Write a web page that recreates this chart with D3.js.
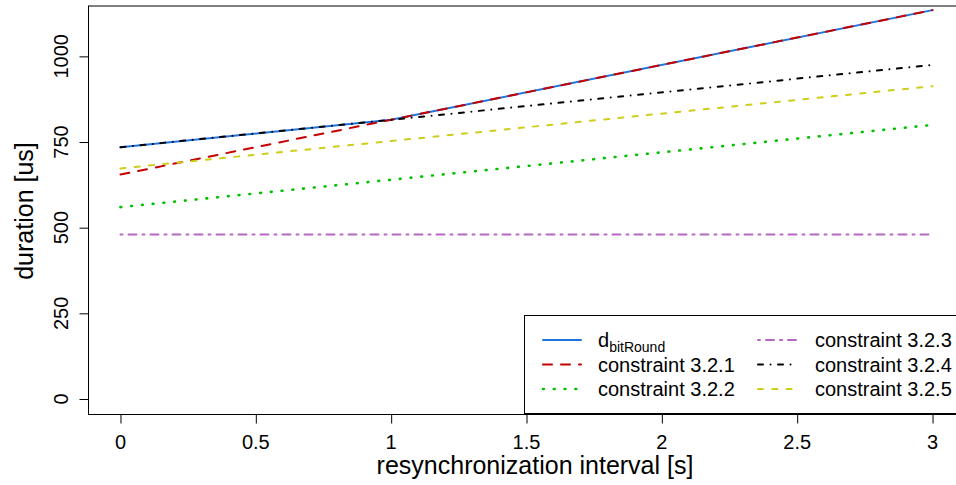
<!DOCTYPE html>
<html>
<head>
<meta charset="utf-8">
<script src="https://cdn.jsdelivr.net/npm/d3@7"></script>
<style>
  body { margin: 0; background: #fff; }
  text { font-family: "Liberation Sans", Arial, sans-serif; fill: #000; }
</style>
</head>
<body>
<svg id="chart" width="956" height="485"></svg>
<script>
// data (x = resynchronization interval in s, y = duration in us)
var intervals = [0, 1, 3];
var dBitRound = [735, 815, 1135];
var c321 = [655, 815, 1135];
var c322 = [560, 640, 800];
var c323 = [480, 480, 480];
var c324 = [735, 815, 975];
var c325 = [673, 753, 913];

var xTicks = [0, 0.5, 1, 1.5, 2, 2.5, 3];
var yTicks = [0, 250, 500, 750, 1000];

var seriesNames = ["d", "constraint 3.2.1", "constraint 3.2.2", "constraint 3.2.3", "constraint 3.2.4", "constraint 3.2.5"];
var seriesValues = [dBitRound, c321, c322, c323, c324, c325];
var seriesColors = ["#1f74e0", "#c40000", "#00c000", "#b866c4", "#000000", "#cdcd1a"];
var seriesDash = [null, "9,9", "0.8,10", "2,6,8,6", "5,7.5,0.01,7.5", "5,9.3"];

var fs = 20;      // tick labels and legend
var fsTitle = 25; // axis titles

var svg = d3.select("#chart");

var xScale = d3.scaleLinear().domain([-0.12, 3.12]).range([88, 965]);
var yScale = d3.scaleLinear().domain([-43.8, 1147]).range([414, 6]);

var line = d3.line()
    .x(function (d) { return xScale(d.x); })
    .y(function (d) { return yScale(d.y); });

// lines
seriesValues.forEach(function (vals, i) {
    var pts = intervals.map(function (x, j) { return { x: x, y: vals[j] }; });
    var p = svg.append("path")
        .datum(pts)
        .attr("fill", "none")
        .attr("stroke", seriesColors[i])
        .attr("stroke-width", i == 2 ? 2.6 : 2)
        .attr("stroke-linecap", "round")
        .attr("d", line);
    if (seriesDash[i]) p.attr("stroke-dasharray", seriesDash[i]);
});

// box
svg.append("rect")
    .attr("x", 88.5).attr("y", 6)
    .attr("width", 900).attr("height", 408.5)
    .attr("fill", "none").attr("stroke", "#000");

// x axis
var xAxis = svg.append("g")
    .attr("transform", "translate(0,414.5)")
    .call(d3.axisBottom(xScale).tickValues(xTicks).tickSize(9).tickFormat(""));
xAxis.select(".domain").attr("d", "M" + xScale(0) + ",0H" + xScale(3));
xAxis.selectAll("line").attr("stroke", "#000");

svg.selectAll("text.xt")
    .data(xTicks)
    .enter().append("text")
    .attr("class", "xt")
    .attr("x", function (d) { return xScale(d); })
    .attr("y", 449)
    .attr("text-anchor", "middle")
    .style("font-size", fs + "px")
    .text(function (d) { return d; });

// y axis
var yAxis = svg.append("g")
    .attr("transform", "translate(88.5,0)")
    .call(d3.axisLeft(yScale).tickValues(yTicks).tickSize(9).tickFormat(""));
yAxis.select(".domain").attr("d", "M0," + yScale(0) + "V" + yScale(1000));
yAxis.selectAll("line").attr("stroke", "#000");

svg.selectAll("text.yt")
    .data(yTicks)
    .enter().append("text")
    .attr("class", "yt")
    .attr("transform", function (d) { return "translate(68," + yScale(d) + ") rotate(-90)"; })
    .attr("text-anchor", "middle")
    .style("font-size", fs + "px")
    .text(function (d) { return d; });

// axis titles
svg.append("text")
    .attr("x", 535).attr("y", 474)
    .attr("text-anchor", "middle")
    .style("font-size", fsTitle + "px")
    .text("resynchronization interval [s]");

svg.append("text")
    .attr("transform", "translate(33,211) rotate(-90)")
    .attr("text-anchor", "middle")
    .style("font-size", fsTitle + "px")
    .text("duration [us]");

// legend
svg.append("rect")
    .attr("x", 524.5).attr("y", 315.5)
    .attr("width", 500).attr("height", 98)
    .attr("fill", "#fff").attr("stroke", "#000");

var rowY = [340, 364.5, 389];
var colLine = [[543, 581], [758, 797]];
var colText = [598, 815];

seriesNames.forEach(function (name, i) {
    var col = Math.floor(i / 3), row = i % 3;
    var l = svg.append("line")
        .attr("x1", colLine[col][0]).attr("x2", colLine[col][1])
        .attr("y1", rowY[row]).attr("y2", rowY[row])
        .attr("stroke", seriesColors[i])
        .attr("stroke-width", i == 2 ? 2.6 : 2)
        .attr("stroke-linecap", "round");
    if (seriesDash[i]) l.attr("stroke-dasharray", seriesDash[i]);

    var t = svg.append("text")
        .attr("x", colText[col]).attr("y", rowY[row] + 7)
        .style("font-size", fs + "px");
    t.append("tspan").text(name);
    if (i == 0) {
        t.append("tspan").attr("dy", 5).style("font-size", "14px").text("bitRound");
    }
});
</script>
</body>
</html>
